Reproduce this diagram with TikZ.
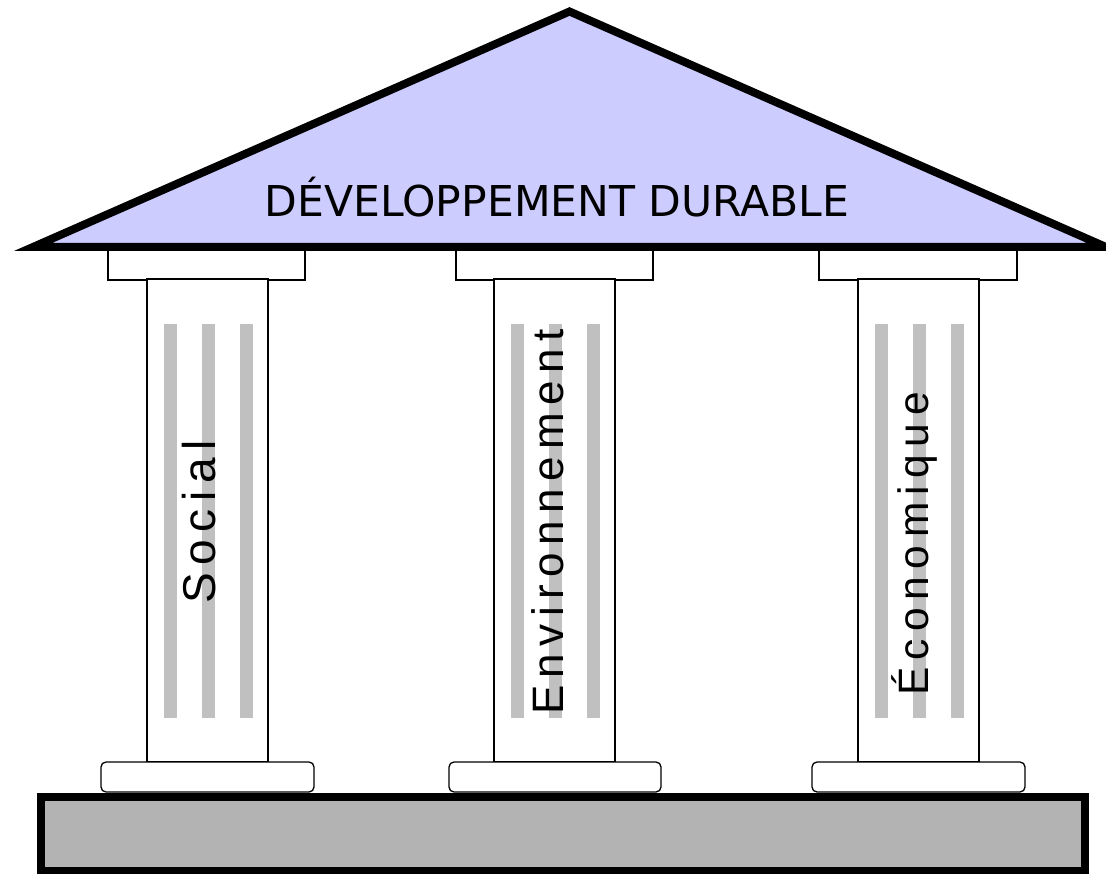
\documentclass[tikz,border=0pt]{standalone}
\usepackage{fontspec}
\setmainfont{Liberation Sans}
\newfontfamily\titlefont{DejaVu Sans}
\newfontfamily\colfont{Liberation Sans}
\definecolor{roof}{HTML}{CCCCFF}
\definecolor{flute}{HTML}{C0C0C0}
\definecolor{ground}{HTML}{B3B3B3}
\tikzset{
  capbox/.style={draw=black, line width=1.3pt, fill=white},
  shaft/.style={draw=black, line width=1.6pt, fill=white},
  plinth/.style={draw=black, line width=1.3pt, fill=white, rounded corners=5pt},
  flutebar/.style={fill=flute, draw=none},
  coltext/.style={rotate=90, anchor=base, inner sep=0pt},
}
\newcommand{\colsize}[2]{\colfont\fontsize{#1}{#1}\selectfont\addfontfeature{LetterSpace=#2}}
\begin{document}
\begin{tikzpicture}[x=1pt,y=-1pt]
\useasboundingbox (0,0) rectangle (1106,874);
% foundation
\draw[fill=ground, line width=7.5pt] (41,797) rectangle (1085,870.5);
% capitals (under the roof)
\foreach \a/\b in {108/305, 456/653, 819/1017}
  \draw[capbox] (\a,240) rectangle (\b,280);
% shafts, flutes and plinths
\foreach \c in {147, 494, 858} {
  \draw[shaft] (\c,279) rectangle ({\c+121},762);
  \foreach \o in {17, 55, 93}
    \fill[flutebar] ({\c+\o},324) rectangle ({\c+\o+12.5},718);
}
\foreach \a/\b in {101/314, 449/661, 812/1025}
  \draw[plinth] (\a,762) rectangle (\b,792);
% roof
\draw[fill=roof, line width=8pt, line join=miter] (33,247) -- (569.5,11.5) -- (1106,247) -- cycle;
\node[font=\titlefont\fontsize{42.5}{48}\selectfont, anchor=base, inner sep=0pt] (title) at (557,217) {DÉVELOPPEMENT DURABLE};
% column labels
\node[coltext, font=\colsize{46}{16.3}] (social) at (215,522) {Social};
\node[coltext, font=\colsize{44}{17}] (env) at (563,522) {Environnement};
\node[coltext, font=\colsize{42.5}{17.6}] (eco) at (928,544) {Économique};
\end{tikzpicture}
\end{document}
